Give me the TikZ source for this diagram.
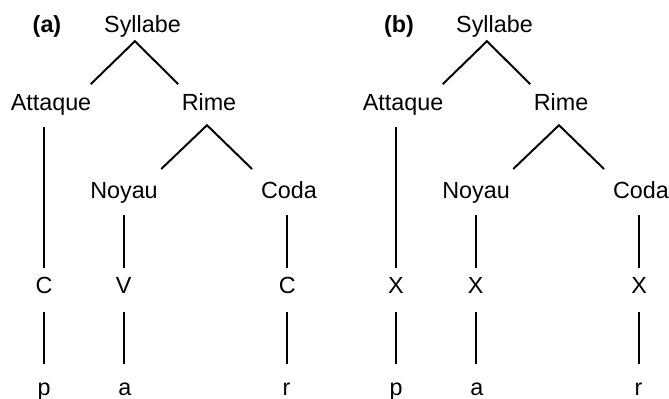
\documentclass[tikz,border=0pt]{standalone}
\usepackage{fontspec}
\setmainfont{Liberation Sans}
\tikzset{
  branch/.style={line width=1.4pt},
  stem/.style={line width=1.4pt, shorten <=0.3cm, shorten >=0.21cm},
  lowstem/.style={line width=1.4pt, shorten <=0.35cm, shorten >=0.34cm}
}
% one syllable tree: #1 prefix, #2 panel label, #3-#5 skeleton slots
\newcommand{\syltree}[5]{%
  \node[font=\fontsize{16.6}{20}\selectfont\bfseries] (#1-lbl) at (1.175,9.15) {#2};
  \node (#1-syl)  at (3.5625,9.15) {Syllabe};
  \node (#1-att)  at (1.275,7.2) {Attaque};
  \node (#1-rime) at (5.225,7.2) {Rime};
  \node (#1-noy)  at (3.1,5.0) {Noyau};
  \node (#1-coda) at (7.225,5.0) {Coda};
  \node (#1-c1) at (1.1,2.625) {#3};
  \node (#1-c2) at (3.09,2.625) {#4};
  \node (#1-c3) at (7.18,2.625) {#5};
  \node (#1-s1) at (1.1,0.075) {p};
  \node (#1-s2) at (3.12,0.075) {a};
  \node (#1-s3) at (7.16,0.075) {r};
  \draw[branch] ([xshift=-0.02cm,yshift=0.22cm]#1-att.north east)
    -- ([xshift=-0.19cm,yshift=-0.1cm]#1-syl.south)
    -- ([xshift=-0.08cm,yshift=0.22cm]#1-rime.north west);
  \draw[branch] ([xshift=0.08cm,yshift=0.3cm]#1-noy.north east)
    -- ([xshift=-0.05cm,yshift=-0.25cm]#1-rime.south)
    -- ([xshift=-0.22cm,yshift=0.3cm]#1-coda.north west);
  \draw[stem] (#1-att.south -| #1-c1) -- (#1-c1.north);
  \draw[stem] (#1-noy.south -| #1-c2) -- (#1-c2.north);
  \draw[stem] (#1-coda.south -| #1-c3) -- (#1-c3.north);
  \draw[lowstem] (#1-c1.south) -- (#1-s1.north -| #1-c1);
  \draw[lowstem] (#1-c2.south) -- (#1-s2.north -| #1-c2);
  \draw[lowstem] (#1-c3.south) -- (#1-s3.north -| #1-c3);}

\begin{document}
\begin{tikzpicture}[every node/.style={font=\fontsize{16.6}{20}\selectfont,
    inner sep=0pt, text height=11.9pt, text depth=3.5pt, anchor=base}]
\useasboundingbox (0,0) rectangle (16.725,9.95);

% ---- (a) C/V skeleton ----
\syltree{a}{(a)}{C}{V}{C}

% ---- (b) X skeleton ----
\begin{scope}[xshift=8.8cm]
\syltree{b}{(b)}{X}{X}{X}
\end{scope}

\end{tikzpicture}
\end{document}
